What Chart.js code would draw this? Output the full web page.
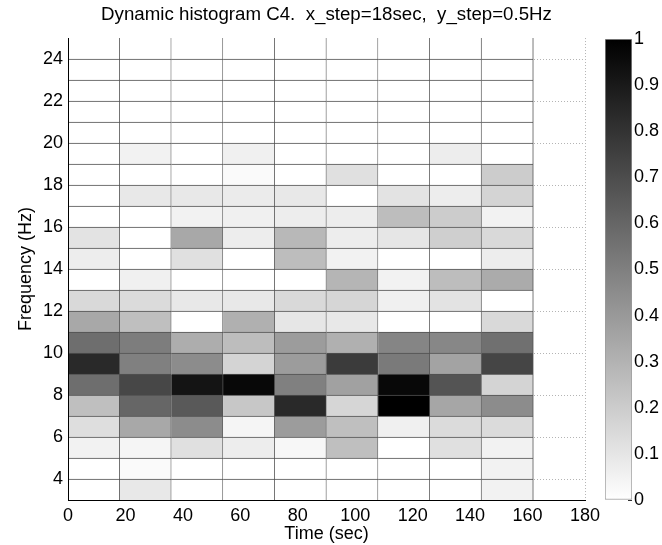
<!DOCTYPE html>
<html>
<head>
<meta charset="utf-8">
<title>Dynamic histogram C4</title>
<script src="https://cdn.jsdelivr.net/npm/chart.js@4.4.1/dist/chart.umd.min.js"></script>
<style>
    html, body { margin: 0; padding: 0; background: #fff; }
    #wrap { position: relative; width: 662px; height: 545px; }
    #heat { position: absolute; left: 0; top: 0; }
    #cbar { position: absolute; left: 600px; top: 0; }
</style>
</head>
<body>
<div id="wrap">
    <canvas id="heat" width="662" height="545"></canvas>
    <canvas id="cbar" width="62" height="545"></canvas>
</div>
<script>
    // time bins (start, sec) and frequency rows (lower edge, Hz)
    const timeBins = [0, 18, 36, 54, 72, 90, 108, 126, 144];
    const timeStep = 18;
    const freqRows = [24, 23, 22, 21, 20, 19, 18, 17, 16, 15, 14, 13, 12, 11, 10, 9, 8, 7, 6, 5, 4, 3];
    const rowHeight = 1;

    // normalised density, one array per frequency row (top row first)
    const row24 = [0, 0, 0, 0, 0, 0, 0, 0, 0];
    const row23 = [0, 0, 0, 0, 0, 0, 0, 0, 0];
    const row22 = [0, 0, 0, 0, 0, 0, 0, 0, 0];
    const row21 = [0, 0, 0, 0, 0, 0, 0, 0, 0];
    const row20 = [0, 0, 0, 0, 0, 0, 0, 0, 0];
    const row19 = [0, 0.05, 0, 0.06, 0, 0, 0, 0.07, 0];
    const row18 = [0, 0, 0, 0.02, 0, 0.12, 0, 0, 0.20];
    const row17 = [0, 0.09, 0.09, 0.08, 0.09, 0, 0.11, 0.07, 0.17];
    const row16 = [0, 0, 0.05, 0.06, 0.07, 0.07, 0.26, 0.20, 0.05];
    const row15 = [0.11, 0, 0.34, 0.07, 0.28, 0.07, 0.10, 0.19, 0.15];
    const row14 = [0.07, 0, 0.12, 0, 0.26, 0.05, 0, 0, 0.07];
    const row13 = [0, 0.06, 0, 0, 0, 0.29, 0.05, 0.26, 0.33];
    const row12 = [0.15, 0.14, 0.09, 0.09, 0.15, 0.16, 0.06, 0.11, 0];
    const row11 = [0.34, 0.25, 0, 0.31, 0.10, 0.09, 0, 0, 0.15];
    const row10 = [0.57, 0.51, 0.32, 0.26, 0.39, 0.31, 0.48, 0.47, 0.56];
    const row9 = [0.84, 0.50, 0.45, 0.17, 0.39, 0.77, 0.52, 0.36, 0.73];
    const row8 = [0.57, 0.72, 0.92, 0.97, 0.50, 0.37, 0.97, 0.67, 0.17];
    const row7 = [0.25, 0.60, 0.65, 0.22, 0.84, 0.16, 1.00, 0.35, 0.45];
    const row6 = [0.13, 0.34, 0.45, 0.04, 0.39, 0.25, 0.06, 0.14, 0.14];
    const row5 = [0.05, 0.04, 0.12, 0.07, 0.03, 0.25, 0, 0.12, 0.05];
    const row4 = [0, 0.02, 0, 0, 0, 0, 0, 0, 0.05];
    const row3 = [0, 0.09, 0, 0, 0, 0, 0, 0, 0.05];
    const density = [row24, row23, row22, row21, row20, row19, row18, row17, row16, row15, row14,
        row13, row12, row11, row10, row9, row8, row7, row6, row5, row4, row3];

    const xTicks = [0, 20, 40, 60, 80, 100, 120, 140, 160, 180];
    const yTicks = [4, 6, 8, 10, 12, 14, 16, 18, 20, 22, 24];
    const cbarRange = [0, 1];
    const cbarTicks = [0, 0.1, 0.2, 0.3, 0.4, 0.5, 0.6, 0.7, 0.8, 0.9, 1];

    Chart.defaults.font.family = "'Liberation Sans', Arial, Helvetica, sans-serif";
    Chart.defaults.color = '#000';

    function grayOf(v) {
        const g = Math.round(255 * (1 - v));
        return 'rgb(' + g + ',' + g + ',' + g + ')';
    }

    const cells = [];
    const cellColors = [];
    freqRows.forEach(function (f, r) {
        timeBins.forEach(function (t, c) {
            cells.push({x: t + timeStep / 2, y: [f, f + rowHeight]});
            cellColors.push(grayOf(density[r][c]));
        });
    });
    const topEdge = Math.max.apply(null, freqRows) + rowHeight;

    function fixTicks(values) {
        return function (scale) {
            scale.ticks = values.map(function (v) { return {value: v}; });
        };
    }

    function plainLabel(value) {
        return String(value);
    }

    new Chart(document.getElementById('heat'), {
        type: 'bar',
        data: {
            datasets: [{
                data: cells,
                backgroundColor: cellColors,
                borderColor: '#505050',
                borderSkipped: false,
                borderWidth: function (ctx) {
                    const raw = ctx.raw;
                    const top = raw && raw.y[1] >= topEdge ? 0 : 1;
                    return {top: top, right: 1, bottom: 0, left: 0};
                },
                barPercentage: 1,
                categoryPercentage: 1
            }]
        },
        options: {
            responsive: false,
            animation: false,
            // leave room on the right for the colour bar canvas
            layout: {padding: {left: 0, right: 77, top: 0, bottom: 0}},
            plugins: {
                legend: {display: false},
                tooltip: {enabled: false},
                title: {
                    display: true,
                    fullSize: false,
                    text: 'Dynamic histogram C4.  x_step=18sec,  y_step=0.5Hz',
                    font: {size: 18.7, weight: 'normal'},
                    padding: {top: 4, bottom: 11.6}
                }
            },
            scales: {
                x: {
                    type: 'linear',
                    min: 0,
                    max: 180,
                    offset: false,
                    afterBuildTicks: fixTicks(xTicks),
                    afterFit: function (scale) { scale.height = 45; },
                    ticks: {font: {size: 18}, padding: 5, maxRotation: 0, callback: plainLabel},
                    grid: {color: '#b4b4b4', drawTicks: false, offset: false},
                    border: {display: true, color: '#000', width: 1, dash: [1, 2], z: 1},
                    title: {display: true, text: 'Time (sec)', font: {size: 18}, padding: {top: 0, bottom: 0}}
                },
                y: {
                    type: 'linear',
                    min: 3,
                    max: 25,
                    afterBuildTicks: fixTicks(yTicks),
                    afterFit: function (scale) { scale.width = 68; },
                    ticks: {font: {size: 18}, padding: 5, callback: plainLabel},
                    grid: {color: '#b4b4b4', drawTicks: false},
                    border: {display: true, color: '#000', width: 1, dash: [1, 2], z: 1},
                    title: {display: true, text: 'Frequency (Hz)', font: {size: 18}, padding: {top: 15, bottom: 0}}
                }
            }
        }
    });

    // colour bar
    new Chart(document.getElementById('cbar'), {
        type: 'bar',
        data: {
            labels: [''],
            datasets: [{
                data: [cbarRange],
                backgroundColor: function (ctx) {
                    const area = ctx.chart.chartArea;
                    if (!area) {
                        return '#888';
                    }
                    const grad = ctx.chart.ctx.createLinearGradient(0, area.bottom, 0, area.top);
                    grad.addColorStop(0, '#ffffff');
                    grad.addColorStop(1, '#000000');
                    return grad;
                },
                borderColor: '#9a9a9a',
                borderWidth: 1,
                borderSkipped: false,
                barPercentage: 1,
                categoryPercentage: 1
            }]
        },
        options: {
            responsive: false,
            animation: false,
            layout: {padding: {left: 5, right: 0, top: 39, bottom: 45}},
            plugins: {legend: {display: false}, tooltip: {enabled: false}},
            scales: {
                x: {display: false},
                y: {
                    position: 'right',
                    min: cbarRange[0],
                    max: cbarRange[1],
                    afterBuildTicks: fixTicks(cbarTicks),
                    afterFit: function (scale) { scale.width = 30; },
                    ticks: {font: {size: 18}, padding: 6, callback: plainLabel},
                    // short ticks pointing into the bar
                    grid: {display: true, drawOnChartArea: false, drawTicks: true, tickLength: -4,
                        tickColor: '#333', tickWidth: 1},
                    border: {display: false, z: 1},
                    z: 1
                }
            }
        }
    });
</script>
</body>
</html>
